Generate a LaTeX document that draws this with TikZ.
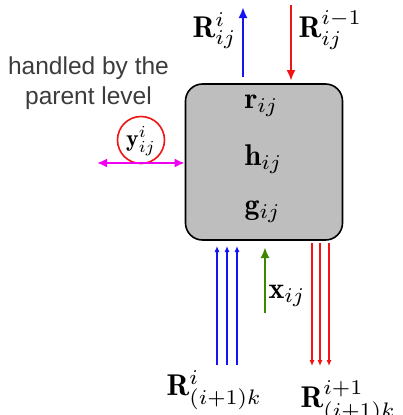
\documentclass[tikz,border=0pt]{standalone}
\usepackage{fontspec}
\newfontfamily\helv{Liberation Sans}
\usetikzlibrary{arrows.meta}
\definecolor{boxgray}{RGB}{190,190,190}
\definecolor{txtgray}{RGB}{60,60,60}
\definecolor{mygreen}{RGB}{60,135,0}
\definecolor{mymag}{RGB}{240,0,240}
\definecolor{myred}{RGB}{240,20,20}
\definecolor{myblue}{RGB}{20,20,245}
\begin{document}
\begin{tikzpicture}[x=1pt,y=-1pt,
  mathlbl/.style={inner sep=0pt, scale=3},
  thickarr/.style={line width=2.8pt, -{Latex[length=11pt,width=9pt]}},
  thinarr/.style={line width=1.1pt, -{Latex[length=6pt,width=5pt]}},
  blockbox/.style={draw=black, line width=1.6pt, fill=boxgray, rounded corners=17pt,
    minimum width=157pt, minimum height=156pt, inner sep=0pt},
]
\useasboundingbox (0,0) rectangle (403,415);

% main block
\node[blockbox] (box) at (264,162) {};
\node[mathlbl, anchor=base west] (r) at (244,108) {$\mathbf{r}_{ij}$};
\node[mathlbl, anchor=base west] (h) at (244,165) {$\mathbf{h}_{ij}$};
\node[mathlbl, anchor=base west] (g) at (244,214) {$\mathbf{g}_{ij}$};

% top arrows
\coordinate (bTopS) at (243,77);
\coordinate (bTopE) at (243,7);
\coordinate (rTopS) at (291,5);
\coordinate (rTopE) at (291,81);
\draw[thickarr, myblue] (bTopS) -- (bTopE);
\draw[thickarr, myred] (rTopS) -- (rTopE);
\node[mathlbl, anchor=base west] (Rup) at (192,37) {$\mathbf{R}_{ij}^{i}$};
\node[mathlbl, anchor=base west] (Rdown) at (298,37) {$\mathbf{R}_{ij}^{i-1}$};

% left: y circle and double arrow
\node[text=txtgray, align=center, inner sep=0pt, anchor=north,
  font=\helv\fontsize{24.5}{30}\selectfont] (hand) at (88.5,57) {handled by the\\parent level};
\node[draw=myred, line width=1.6pt, circle, minimum size=47pt, inner sep=0pt] (yc) at (141,140) {};
\node[inner sep=0pt, scale=2.4] (y) at (141,141) {$\mathbf{y}_{ij}^{i}$};
\coordinate (mL) at (97,163);
\coordinate (mR) at (box.west |- mL);
\draw[line width=2.6pt, mymag, {Latex[length=10pt,width=9pt]}-{Latex[length=10pt,width=9pt]}] (mL) -- (mR);

% bottom arrows
\foreach \xx/\nm in {217/a,227/b,237/c}{
  \coordinate (bs\nm) at (\xx,365);
  \coordinate (be\nm) at (\xx,246);
  \draw[thinarr, myblue] (bs\nm) -- (be\nm);
}
\foreach \xx/\nm in {312/a,320/b,329/c}{
  \coordinate (rs\nm) at (\xx,243);
  \coordinate (re\nm) at (\xx,366);
  \draw[thinarr, myred] (rs\nm) -- (re\nm);
}
\coordinate (gS) at (265,313);
\coordinate (gE) at (265,247);
\draw[thickarr, mygreen] (gS) -- (gE);
\node[mathlbl, anchor=base west] (x) at (268,298) {$\mathbf{x}_{ij}$};

\node[mathlbl, anchor=base west] (Rb1) at (166,395) {$\mathbf{R}_{(i+1)k}^{i}$};
\node[mathlbl, anchor=base west] (Rb2) at (300,407) {$\mathbf{R}_{(i+1)k}^{i+1}$};
\end{tikzpicture}
\end{document}
